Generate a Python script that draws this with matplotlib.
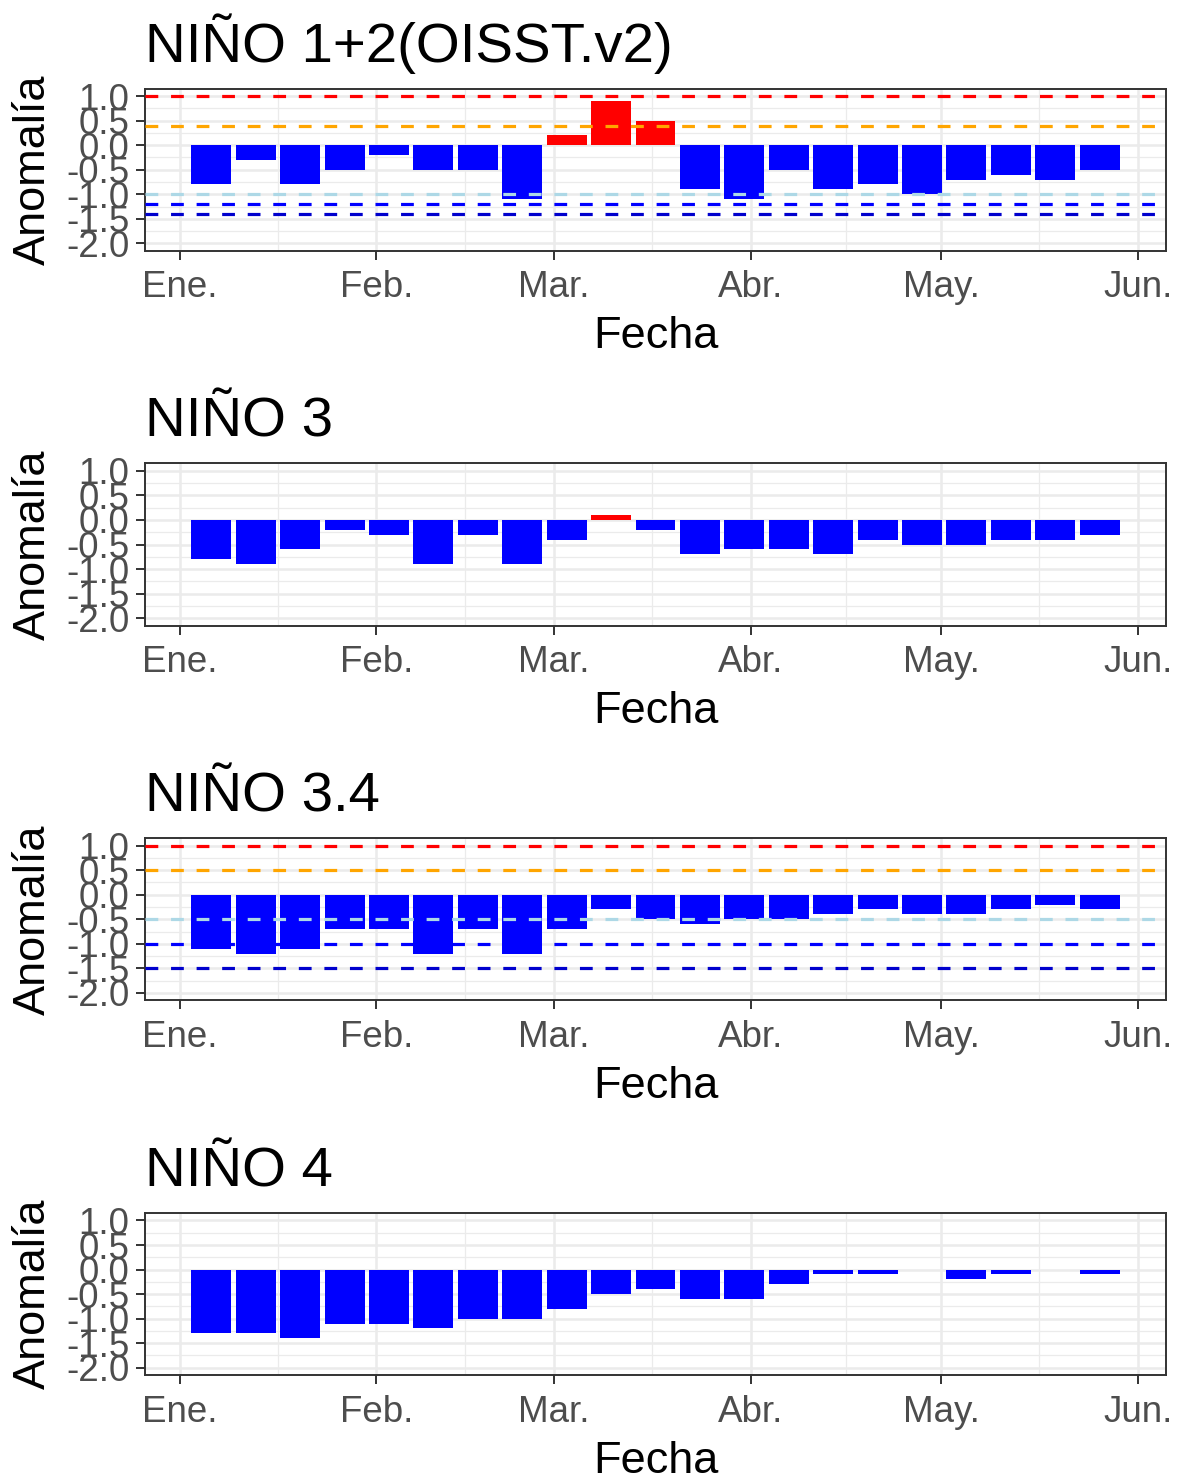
import numpy as np
import pandas as pd
import matplotlib
matplotlib.use("Agg")
import matplotlib.pyplot as plt
import matplotlib.dates as mdates

plt.rcParams["font.family"] = ["Liberation Sans", "DejaVu Sans"]

# ----------------------------------
# Data (weekly anomalies)
# ----------------------------------
fechas = pd.date_range("2022-01-06", periods=21, freq="7D")

nino12 = [-0.8, -0.3, -0.8, -0.5, -0.2, -0.5, -0.5, -1.1, 0.2, 0.9, 0.5,
          -0.9, -1.1, -0.5, -0.9, -0.8, -1.0, -0.7, -0.6, -0.7, -0.5]
nino3 = [-0.8, -0.9, -0.6, -0.2, -0.3, -0.9, -0.3, -0.9, -0.4, 0.1, -0.2,
         -0.7, -0.6, -0.6, -0.7, -0.4, -0.5, -0.5, -0.4, -0.4, -0.3]
nino34 = [-1.1, -1.2, -1.1, -0.7, -0.7, -1.2, -0.7, -1.2, -0.7, -0.3, -0.5,
          -0.6, -0.5, -0.5, -0.4, -0.3, -0.4, -0.4, -0.3, -0.2, -0.3]
nino4 = [-1.3, -1.3, -1.4, -1.1, -1.1, -1.2, -1.0, -1.0, -0.8, -0.5, -0.4,
         -0.6, -0.6, -0.3, -0.1, -0.1, 0.0, -0.2, -0.1, 0.0, -0.1]

titulos = ["NIÑO 1+2(OISST.v2)", "NIÑO 3", "NIÑO 3.4", "NIÑO 4"]
series = [nino12, nino3, nino34, nino4]

# threshold lines per panel (None = no lines)
umbral_colores = ["red", "orange", "lightblue", "blue", "mediumblue"]
umbrales = [[1.0, 0.4, -1.0, -1.2, -1.4], None,
            [1.0, 0.5, -0.5, -1.0, -1.5], None]

meses = pd.date_range("2022-01-01", "2022-06-01", freq="MS")
mes_labels = ["Ene.", "Feb.", "Mar.", "Abr.", "May.", "Jun."]
y_ticks = [-2.0, -1.5, -1.0, -0.5, 0.0, 0.5, 1.0]

# ----------------------------------
# Layout (pixels)
# ----------------------------------
W, H = 1181, 1475
fig = plt.figure(figsize=(W / 100, H / 100), dpi=100)

left_px, right_px = 145, 1166
panel_h = 162
top0, step = 88.7, 374.8

grey20 = "#333333"
grey30 = "#4D4D4D"

xnum = mdates.date2num(fechas)
bar_w = 6.3
x_lo = xnum[0] - bar_w / 2
x_hi = xnum[-1] + bar_w / 2
x_pad = 0.05 * (x_hi - x_lo)

mnum = mdates.date2num(meses)
minor_x = (mnum[:-1] + mnum[1:]) / 2

for i, (titulo, vals) in enumerate(zip(titulos, series)):
    top = top0 + step * i
    ax = fig.add_axes([left_px / W, 1 - (top + panel_h) / H,
                       (right_px - left_px) / W, panel_h / H])

    vals = np.array(vals)
    colores = np.where(vals > 0, "red", "blue")
    ax.bar(xnum, vals, width=bar_w, color=colores, zorder=2)

    if umbrales[i] is not None:
        for yv, c in zip(umbrales[i], umbral_colores):
            ax.axhline(yv, color=c, lw=2.3, linestyle=(0, (4, 4)), zorder=3)

    ax.set_xlim(x_lo - x_pad, x_hi + x_pad)
    ax.set_ylim(-2.15, 1.15)

    ax.set_xticks(mnum)
    ax.set_xticklabels(mes_labels)
    ax.set_xticks(minor_x, minor=True)
    ax.set_yticks(y_ticks)
    ax.set_yticklabels([f"{v:.1f}" for v in y_ticks])
    ax.set_yticks(np.arange(-1.75, 1.0, 0.5), minor=True)

    ax.set_axisbelow(True)
    ax.grid(which="major", color="#EBEBEB", lw=1.8)
    ax.grid(which="minor", color="#EBEBEB", lw=0.9)

    for s in ax.spines.values():
        s.set_color(grey20)
        s.set_linewidth(1.4)

    ax.tick_params(which="major", length=6.5, width=1.4, color=grey20,
                   labelsize=26.5, labelcolor=grey30)
    ax.tick_params(which="minor", length=0)
    ax.tick_params(axis="x", pad=7.5)
    ax.tick_params(axis="y", pad=4.8)

    # title, axis titles
    fig.text(left_px / W, 1 - (top - 27) / H, titulo, fontsize=40.6,
             ha="left", va="baseline", color="black")
    fig.text((left_px + right_px) / 2 / W, 1 - (top + panel_h + 97.5) / H,
             "Fecha", fontsize=32.5, ha="center", va="baseline")
    fig.text(45 / W, 1 - (top + panel_h / 2) / H, "Anomalía", fontsize=32.5,
             rotation=90, rotation_mode="anchor", ha="center", va="baseline")

fig.savefig("out.png", dpi=100)
